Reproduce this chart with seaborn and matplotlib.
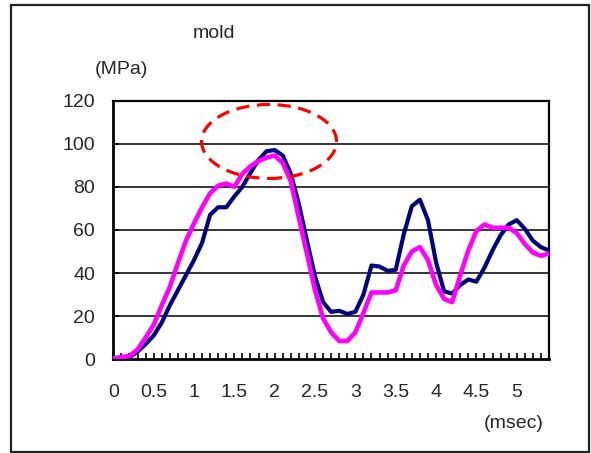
import numpy as np
import pandas as pd
import matplotlib
matplotlib.use("Agg")
import matplotlib.pyplot as plt
from matplotlib.patches import Ellipse, Rectangle
import seaborn as sns

# ---- data ----
time_ms = [round(i * 0.1, 1) for i in range(55)]
series_navy = [0, 0.5, 1, 3.5, 7, 11, 17, 25, 32, 39, 46, 54, 67, 70.5, 70.5, 75.5, 80, 86.5,
               92.5, 96.5, 97, 94.5, 86, 72, 55, 38.5, 26.5, 22, 22.5, 21, 22, 30, 43.5, 43,
               41, 41.5, 58, 71, 74, 64.5, 45, 31.5, 30.5, 34.5, 37, 36, 42.5, 50.5, 57.5,
               62.5, 64.5, 60.5, 55, 52, 50.5]
series_magenta = [0.5, 1, 1.5, 4.5, 10, 16, 25, 33.5, 44.5, 55, 63, 70.5, 77, 80.5, 81.5, 80,
                  86, 89.5, 92, 93.5, 94.5, 91, 82.5, 65.5, 49, 32, 19, 12.5, 8.5, 8.5, 12.5,
                  21.5, 31, 31, 31, 32, 43.5, 50, 52, 46, 34.5, 28, 26.5, 39, 50.5, 59.5, 62.5,
                  61, 61, 61, 58.5, 53.5, 49.5, 48, 49]
x_tick_labels = ["0", "0.5", "1", "1.5", "2", "2.5", "3", "3.5", "4", "4.5", "5"]
y_ticks = [0, 20, 40, 60, 80, 100, 120]
title_text = "mold"
y_unit = "(MPa)"
x_unit = "(msec)"

df = pd.DataFrame({"t": time_ms, "navy": series_navy, "magenta": series_magenta})

sns.set_style("white")
plt.rcParams["font.family"] = ["Liberation Sans", "DejaVu Sans"]
plt.rcParams["lines.scale_dashes"] = False

FS = 14
W, H = 591, 453
fig = plt.figure(figsize=(W / 100, H / 100), dpi=100)
ax = fig.add_axes([113.3 / W, 1 - 359.3 / H, (549 - 113.3) / W, (359.3 - 100.5) / H])

# gridlines
for v in y_ticks[1:-1]:
    ax.axhline(v, color="black", lw=1.1, zorder=1)

sns.lineplot(data=df, x="t", y="navy", ax=ax, color="#000080", lw=3.0, zorder=3)
sns.lineplot(data=df, x="t", y="magenta", ax=ax, color="#FF00FF", lw=3.3, zorder=4)

ell = Ellipse((1.93, 101), 1.673, 34.3, fill=False, edgecolor="#FF0000", lw=2.3,
              linestyle=(0, (9.5, 5.5)), zorder=5, clip_on=False)
ax.add_patch(ell)

ax.set_xlim(0, 5.4)
ax.set_ylim(0, 120)
ax.set_xlabel("")
ax.set_ylabel("")

ax.set_xticks(time_ms)
lbls = []
lab_iter = iter(x_tick_labels)
for i in range(len(time_ms)):
    lbls.append(next(lab_iter) if i % 5 == 0 and i <= 50 else "")
ax.set_xticklabels(lbls, fontsize=FS)
ax.set_yticks(y_ticks)
ax.set_yticklabels([str(v) for v in y_ticks], fontsize=FS)
ax.tick_params(axis="x", direction="in", length=4, width=1.2, color="black", pad=17.5, bottom=True)
ax.tick_params(axis="y", direction="in", length=4, width=1.2, color="black", pad=13, left=True)

for s in ["left", "bottom"]:
    ax.spines[s].set_linewidth(2.0)
    ax.spines[s].set_color("black")
for s in ["top", "right"]:
    ax.spines[s].set_linewidth(1.6)
    ax.spines[s].set_color("black")
    ax.spines[s].set_visible(True)

fig.text(214 / W, 1 - 34 / H, title_text, ha="center", va="center", fontsize=FS)
fig.text(121.5 / W, 1 - 70 / H, y_unit, ha="center", va="center", fontsize=FS)
fig.text(513.5 / W, 1 - 424 / H, x_unit, ha="center", va="center", fontsize=FS)

border = Rectangle((11 / W, 1 - 452 / H), (589 - 11) / W, (452 - 5) / H,
                   transform=fig.transFigure, fill=False, edgecolor="#222222", lw=1.6)
fig.patches.append(border)

fig.savefig("out.png", dpi=100)
